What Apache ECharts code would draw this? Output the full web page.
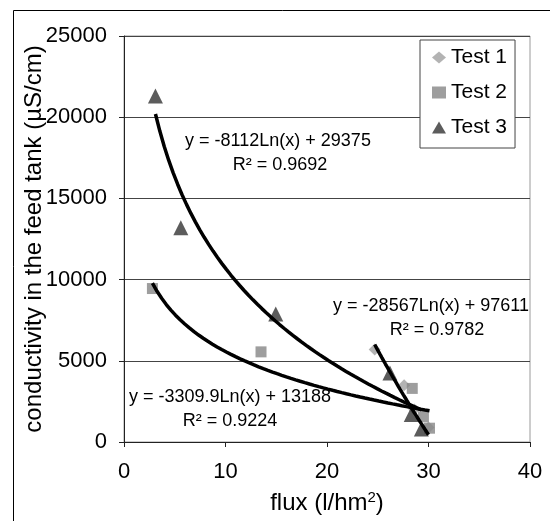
<!DOCTYPE html>
<html><head><meta charset="utf-8">
<script src="https://cdn.jsdelivr.net/npm/echarts@6/dist/echarts.min.js"></script>
<style>html,body{margin:0;padding:0;background:#fff}#c{width:550px;height:521px}</style>
</head><body><div id="c"></div>
<script>
// ---- data ----
const test1X = [24.7, 27.6, 28.6, 30.0];
const test1Y = [5700, 3500, 2000, 900];
const test2X = [2.8, 13.5, 28.4, 29.5, 30.1];
const test2Y = [9450, 5550, 3300, 1550, 850];
const test3X = [3.1, 5.6, 14.95, 26.2, 28.3, 29.3];
const test3Y = [21300, 13200, 7880, 4250, 1700, 800];
// logarithmic trendlines as printed on the chart: y = a*ln(x) + b
const trendA = [-28567, -3309.9, -8112];
const trendB = [97611, 13188, 29375];
const trendLabels = ['y = -28567Ln(x) + 97611', 'y = -3309.9Ln(x) + 13188', 'y = -8112Ln(x) + 29375'];
const trendR2 = ['R² = 0.9782', 'R² = 0.9224', 'R² = 0.9692'];
const seriesNames = ['Test 1', 'Test 2', 'Test 3'];
const xTicks = [0, 10, 20, 30, 40];
const yTicks = [0, 5000, 10000, 15000, 20000, 25000];

const FONT = '"Liberation Sans", Arial, sans-serif';
const xs = [test1X, test2X, test3X];
const ys = [test1Y, test2Y, test3Y];
function pairs(x, y){ return x.map((v,i)=>[v, y[i]]); }
function trend(k){
  const x = xs[k], lo = Math.min(...x), hi = Math.max(...x), n = 60, out = [];
  for (let i = 0; i <= n; i++){ const t = lo + (hi-lo)*i/n; out.push([t, trendA[k]*Math.log(t) + trendB[k]]); }
  return out;
}
const colors = ['#a0a0a0', '#868686', '#333333'];
const symbols = ['diamond', 'rect', 'triangle'];
const sizes = [12, 11, 15];

const chart = echarts.init(document.getElementById('c'), null, {renderer:'canvas'});
const series = [];
for (let k = 0; k < 3; k++){
  series.push({ name: seriesNames[k] + ' trend', type:'line', data: trend(k), showSymbol:false, symbol:'none',
    lineStyle:{color:'#000', width:3.5}, z:3, silent:true, animation:false });
}
for (let k = 0; k < 3; k++){
  series.push({ name: seriesNames[k], type:'scatter', data: pairs(xs[k], ys[k]), symbol: symbols[k],
    symbolSize: sizes[k], itemStyle:{color: colors[k]}, z: 2 + k*0.1, animation:false });
}
chart.setOption({
  animation:false,
  textStyle:{fontFamily: FONT},
  grid:{left:124, right:20, top:36, bottom:79, show:true, borderColor:'#9a9a9a', borderWidth:1, backgroundColor:'transparent'},
  xAxis:{ type:'value', min:xTicks[0], max:xTicks[xTicks.length-1], interval:10,
    axisLine:{show:true, lineStyle:{color:'#222', width:1}},
    axisTick:{show:true, inside:false, length:5, lineStyle:{color:'#222'}},
    axisLabel:{color:'#000', fontSize:22, fontFamily:FONT, margin:19},
    splitLine:{show:false},
    name:'flux (l/hm{s|2})', nameLocation:'middle', nameGap:48, nameMoveOverlap:false,
    nameTextStyle:{color:'#000', fontSize:24, fontFamily:FONT, rich:{s:{fontSize:15, verticalAlign:'top', padding:[0,0,12,0], color:'#000', fontFamily:FONT}}}
  },
  yAxis:{ type:'value', min:yTicks[0], max:yTicks[yTicks.length-1], interval:5000,
    axisLine:{show:true, lineStyle:{color:'#222', width:1}},
    axisTick:{show:true, inside:false, length:5, lineStyle:{color:'#222'}},
    axisLabel:{color:'#000', fontSize:22, fontFamily:FONT, margin:17, formatter: v => String(v)},
    splitLine:{show:true, lineStyle:{color:'#444', width:1}},
    name:'conductivity in the feed tank (µS/cm)', nameLocation:'middle', nameGap:78, nameRotate:90, nameMoveOverlap:false,
    nameTextStyle:{color:'#000', fontSize:24, fontFamily:FONT}
  },
  legend:{ data: seriesNames, orient:'vertical', left:420, top:40, itemGap:14,
    itemWidth:14, itemHeight:12, padding:[7,8,10,12],
    backgroundColor:'#fff', borderColor:'#444', borderWidth:1,
    textStyle:{color:'#000', fontSize:21, fontFamily:FONT}, itemStyle:{borderWidth:0} },
  series: series,
  graphic:[
    {type:'rect', shape:{x:13.5, y:10.5, width:600, height:600}, style:{fill:'none', stroke:'#000', lineWidth:1}, z:0, silent:true},
    {type:'text', x:431, y:306, style:{text:trendLabels[0], font:'18px '+FONT, fill:'#000', align:'center', verticalAlign:'middle'}, z:10},
    {type:'text', x:437, y:330, style:{text:trendR2[0], font:'18px '+FONT, fill:'#000', align:'center', verticalAlign:'middle'}, z:10},
    {type:'text', x:230, y:397, style:{text:trendLabels[1], font:'18px '+FONT, fill:'#000', align:'center', verticalAlign:'middle'}, z:10},
    {type:'text', x:230, y:421, style:{text:trendR2[1], font:'18px '+FONT, fill:'#000', align:'center', verticalAlign:'middle'}, z:10},
    {type:'text', x:278, y:141, style:{text:trendLabels[2], font:'18px '+FONT, fill:'#000', align:'center', verticalAlign:'middle'}, z:10},
    {type:'text', x:280, y:165, style:{text:trendR2[2], font:'18px '+FONT, fill:'#000', align:'center', verticalAlign:'middle'}, z:10}
  ]
});
</script></body></html>
